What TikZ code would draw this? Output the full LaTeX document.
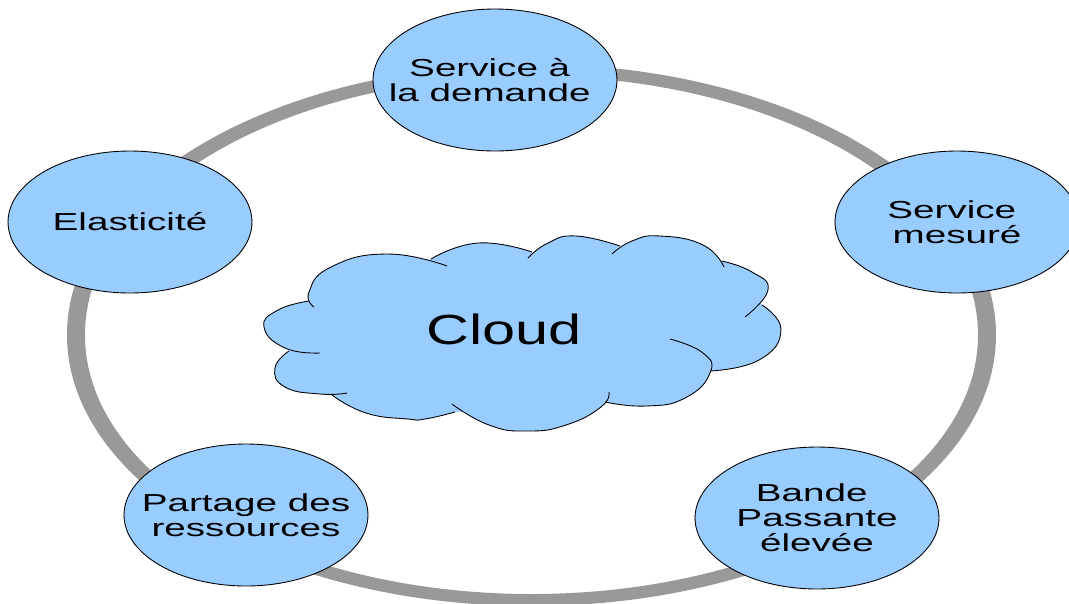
\documentclass[tikz,border=0pt]{standalone}
\usepackage{fontspec}
\setmainfont[FakeStretch=1.57]{Liberation Sans}
\newfontfamily\cloudfont[FakeStretch=1.41]{Liberation Sans}
\usetikzlibrary{shapes.geometric}
\definecolor{cloudblue}{HTML}{99CCFF}
\definecolor{ringgray}{HTML}{999999}
\tikzset{
	feature/.style={ellipse, draw=black, fill=cloudblue, line width=0.5pt, minimum width=4.88cm, minimum height=2.84cm, inner sep=-1cm, align=center, font=\fontsize{14}{14.2}\selectfont}
}
\def\lobefill#1{\fill[cloudblue] plot[smooth, tension=0.85] coordinates {#1} -- (520,330) -- cycle;}
\def\lobedraw#1{\draw[black, line width=0.5pt] plot[smooth, tension=0.85] coordinates {#1};}
\def\cloudlobes#1{
	#1{(314,307) (309,292) (331,267) (387,254) (447,266)}
	#1{(431,259) (478,243) (532,252)}
	#1{(528,258) (548,243) (576,236) (620,246)}
	#1{(612,254) (632,241) (660,236) (703,245) (724,267)}
	#1{(722,261) (752,272) (768,290) (745,317)}
	#1{(762,305) (781,330) (759,360) (710,371)}
	#1{(670,339) (703,353) (710,373) (685,398) (646,406) (605,402)}
	#1{(609,392) (601,407) (566,425) (527,431) (489,425) (452,404)}
	#1{(455,412) (425,419) (408,419) (366,413) (332,395)}
	#1{(347,393) (320,394) (285,387) (275,368) (289,351)}
	#1{(320,353) (285,348) (264,327) (278,310) (309,301)}
}

\begin{document}
\begin{tikzpicture}[x=0.02cm, y=-0.02cm]
	\useasboundingbox (0,0) rectangle (1069,603);
	
	%%%%% ring %%%%%
	\fill[ringgray, even odd rule] (531.5,335) ellipse [x radius=464.5, y radius=271] (531.5,335) ellipse [x radius=446.5, y radius=259];
	
	%%%%% cloud %%%%%
	\fill[cloudblue] (309,301) -- (431,259) -- (530,254) -- (615,249) -- (722,261) -- (762,305) -- (710,371) -- (605,402) -- (455,412) -- (335,393) -- (289,350) -- cycle;
	\cloudlobes\lobefill
	\cloudlobes\lobedraw
	\node[font=\cloudfont\fontsize{24}{24}\selectfont] (cloudlabel) at (504,329) {Cloud};
	
	%%%%% features %%%%%
	\node[feature] (demande) at (495,80) {Service à\kern6pt\\la demande\kern6pt};
	\node[feature] (mesure) at (957,222) {Service\kern6pt\\mesuré};
	\node[feature] (bande) at (817,518) {Bande\kern6pt\\Passante\\élevée};
	\node[feature] (partage) at (246,515) {Partage des\\ressources};
	\node[feature] (elasticite) at (130,222) {Elasticité};
\end{tikzpicture}
\end{document}
